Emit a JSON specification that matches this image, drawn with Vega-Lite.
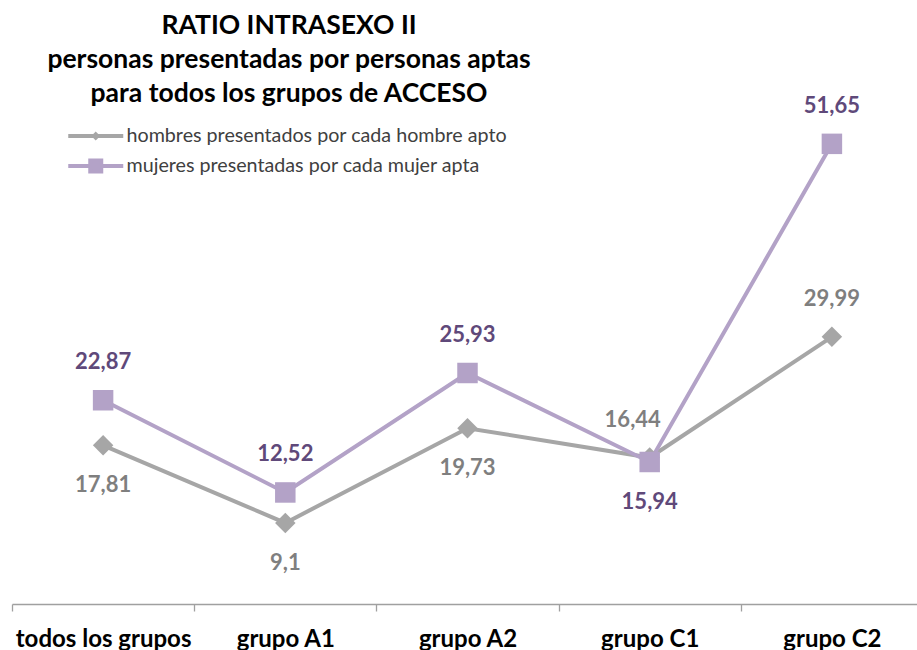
{
  "$schema": "https://vega.github.io/schema/vega-lite/v6.json",
  "width": 905,
  "height": 490,
  "autosize": "none",
  "padding": {"left": 12, "top": 114, "right": 0, "bottom": 46},
  "config": {
    "view": {"stroke": null},
    "font": "Lato",
    "locale": {"number": {"decimal": ",", "thousands": ".", "grouping": [3], "currency": ["", " €"]}}
  },
  "title": {
    "text": ["RATIO INTRASEXO II", "personas presentadas por personas aptas", "para todos los grupos de ACCESO"],
    "anchor": "start",
    "frame": "group",
    "align": "center",
    "dx": 277,
    "baseline": "bottom",
    "lineHeight": 34,
    "offset": -39.5,
    "font": "Lato",
    "fontSize": 26.5,
    "fontWeight": "bold",
    "color": "#000000"
  },
  "data": {
    "values": [
      {"serie": "hombres presentados por cada hombre apto", "grupo": "todos los grupos", "valor": 17.81},
      {"serie": "hombres presentados por cada hombre apto", "grupo": "grupo A1", "valor": 9.1},
      {"serie": "hombres presentados por cada hombre apto", "grupo": "grupo A2", "valor": 19.73},
      {"serie": "hombres presentados por cada hombre apto", "grupo": "grupo C1", "valor": 16.44},
      {"serie": "hombres presentados por cada hombre apto", "grupo": "grupo C2", "valor": 29.99},
      {"serie": "mujeres presentadas por cada mujer apta", "grupo": "todos los grupos", "valor": 22.87},
      {"serie": "mujeres presentadas por cada mujer apta", "grupo": "grupo A1", "valor": 12.52},
      {"serie": "mujeres presentadas por cada mujer apta", "grupo": "grupo A2", "valor": 25.93},
      {"serie": "mujeres presentadas por cada mujer apta", "grupo": "grupo C1", "valor": 15.94},
      {"serie": "mujeres presentadas por cada mujer apta", "grupo": "grupo C2", "valor": 51.65}
    ]
  },
  "encoding": {
    "x": {
      "field": "grupo",
      "type": "nominal",
      "sort": ["todos los grupos", "grupo A1", "grupo A2", "grupo C1", "grupo C2"],
      "scale": {"type": "band", "range": [0, 911], "paddingInner": 0, "paddingOuter": 0},
      "axis": {
        "title": null,
        "labelAngle": 0,
        "labelFont": "Lato",
        "labelFontSize": 24,
        "labelFontWeight": "bold",
        "labelColor": "#000000",
        "labelPadding": 16,
        "labelOverlap": false,
        "labelLimit": 0,
        "domainColor": "#a0a0a0",
        "domainWidth": 1.3,
        "tickColor": "#a0a0a0",
        "tickWidth": 1.3,
        "tickSize": 7,
        "tickBand": "extent",
        "grid": false
      }
    },
    "y": {
      "field": "valor",
      "type": "quantitative",
      "scale": {"domain": [0, 55], "nice": false, "zero": true},
      "axis": null
    }
  },
  "layer": [
    {
      "mark": {"type": "line", "strokeWidth": 4},
      "encoding": {
        "color": {
          "field": "serie",
          "type": "nominal",
          "scale": {
            "domain": ["hombres presentados por cada hombre apto", "mujeres presentadas por cada mujer apta"],
            "range": ["#a6a6a6", "#b3a2c7"]
          },
          "legend": {
            "orient": "none",
            "legendX": 67.75,
            "legendY": 6,
            "direction": "vertical",
            "title": null,
            "padding": 0,
            "rowPadding": 4,
            "symbolSize": 400,
            "symbolStrokeWidth": 4,
            "labelOffset": 14.75,
            "labelFont": "Lato",
            "labelFontSize": 19.7,
            "labelColor": "#404040",
            "labelLimit": 0,
            "encode": {
              "symbols": {
                "update": {
                  "size": {"value": 756.25},
                  "shape": {"signal": "datum.value == 'hombres presentados por cada hombre apto' ? 'M-2,0H2M0,-0.12L0.12,0L0,0.12L-0.12,0Z' : 'M-2,0H2M-0.4,-0.4H0.4V0.4H-0.4Z'"},
                  "fill": {"scale": "color", "field": "value"},
                  "stroke": {"scale": "color", "field": "value"}
                }
              }
            }
          }
        }
      }
    },
    {
      "mark": {"type": "point", "filled": true, "opacity": 1},
      "encoding": {
        "shape": {
          "condition": {"test": "datum.serie == 'mujeres presentadas por cada mujer apta'", "value": "square"},
          "value": "diamond"
        },
        "size": {"value": 420},
        "color": {
          "condition": {"test": "datum.serie == 'mujeres presentadas por cada mujer apta'", "value": "#b3a2c7"},
          "value": "#a6a6a6"
        }
      }
    },
    {
      "transform": [
        {"filter": "(datum.serie == 'mujeres presentadas por cada mujer apta' && datum.grupo != 'grupo C1') || (datum.serie == 'hombres presentados por cada hombre apto' && datum.grupo == 'grupo C2')"}
      ],
      "mark": {"type": "text", "dy": -38, "font": "Lato", "fontSize": 22, "fontWeight": "bold", "baseline": "middle"},
      "encoding": {
        "text": {"field": "valor", "type": "quantitative", "format": ".2~f"},
        "color": {
          "condition": {"test": "datum.serie == 'mujeres presentadas por cada mujer apta'", "value": "#5f497a"},
          "value": "#7f7f7f"
        }
      }
    },
    {
      "transform": [
        {"filter": "datum.serie == 'hombres presentados por cada hombre apto' && datum.grupo == 'grupo C1'"}
      ],
      "mark": {"type": "text", "dy": -38, "dx": -17, "font": "Lato", "fontSize": 22, "fontWeight": "bold", "baseline": "middle", "color": "#7f7f7f"},
      "encoding": {
        "text": {"field": "valor", "type": "quantitative", "format": ".2~f"}
      }
    },
    {
      "transform": [
        {"filter": "(datum.serie == 'hombres presentados por cada hombre apto' && datum.grupo != 'grupo C1' && datum.grupo != 'grupo C2') || (datum.serie == 'mujeres presentadas por cada mujer apta' && datum.grupo == 'grupo C1')"}
      ],
      "mark": {"type": "text", "dy": 40, "font": "Lato", "fontSize": 22, "fontWeight": "bold", "baseline": "middle"},
      "encoding": {
        "text": {"field": "valor", "type": "quantitative", "format": ".2~f"},
        "color": {
          "condition": {"test": "datum.serie == 'mujeres presentadas por cada mujer apta'", "value": "#5f497a"},
          "value": "#7f7f7f"
        }
      }
    }
  ]
}
